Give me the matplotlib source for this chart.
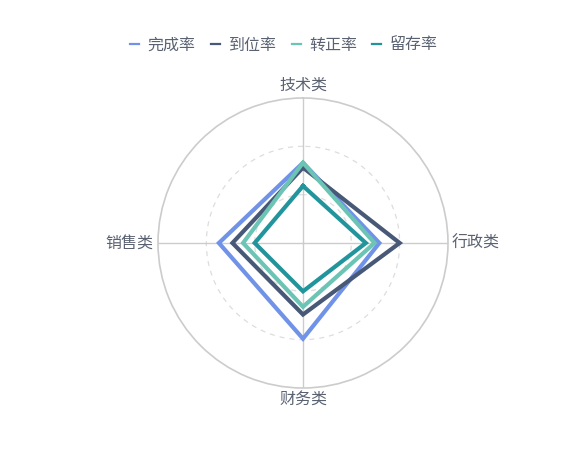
import numpy as np
import matplotlib
matplotlib.use("Agg")
import matplotlib.pyplot as plt

plt.rcParams['font.family'] = ['Noto Sans CJK SC', 'DejaVu Sans']

# indicators, counter-clockwise from the top
categories = ['技术类', '销售类', '财务类', '行政类']
max_value = 150
series_names = ['完成率', '到位率', '转正率', '留存率']
wancheng = [83, 87, 99, 79]
daowei = [78, 73, 74, 100]
zhuanzheng = [83, 62, 66, 74]
liucun = [59, 50, 50, 65]
colors = ['#7093e8', '#485877', '#6bc4b4', '#22959c']
text_color = '#5a6272'


def main():
    fig = plt.figure(figsize=(5.85, 4.54), dpi=100)
    W, H = 585, 454
    cx, cy, R = 303, 243, 145
    ax = fig.add_axes([(cx - R) / W, (H - cy - R) / H, 2 * R / W, 2 * R / H], polar=True)
    ax.set_theta_zero_location('N')
    ax.set_theta_direction(1)
    ax.set_ylim(0, max_value)

    angles = np.linspace(0, 2 * np.pi, len(categories), endpoint=False)
    closed = np.append(angles, angles[0])

    for name, vals, c in zip(series_names, [wancheng, daowei, zhuanzheng, liucun], colors):
        v = np.append(vals, vals[0])
        ax.plot(closed, v, color=c, linewidth=3, label=name, solid_joinstyle='miter', zorder=3)

    # grid
    ax.set_xticks([])
    ax.set_yticks([])
    ax.grid(False)
    t = np.linspace(0, 2 * np.pi, 300)
    for r in [50, 100]:
        ax.plot(t, np.full_like(t, r), color='#dddddd', linestyle=(0, (4, 4)), linewidth=0.9, zorder=1)
    for a in angles:
        ax.plot([a, a], [0, max_value], color='#cccccc', linewidth=1, zorder=1)
    ax.spines['polar'].set_color('#cccccc')
    ax.spines['polar'].set_linewidth(1.2)

    # indicator names
    offsets = [(0, 9, 'center', 'center'), (-3.5, 0, 'right', 'center'),
               (0, -8, 'center', 'center'), (2.5, 0, 'left', 'center')]
    for a, lab, (dx, dy, ha, va) in zip(angles, categories, offsets):
        ax.annotate(lab, (a, max_value), xytext=(dx, dy), textcoords='offset points',
                    ha=ha, va=va, fontsize=11.5, color=text_color, annotation_clip=False)

    leg = fig.legend(loc='center', bbox_to_anchor=(284 / W, 1 - 45 / H), ncol=4, frameon=False,
                     fontsize=11.5, handlelength=0.56, handletextpad=0.55, columnspacing=0.95)
    for line in leg.get_lines():
        line.set_linewidth(1.6)
    for txt in leg.get_texts():
        txt.set_color(text_color)

    fig.savefig('out.png', dpi=100)
    plt.close(fig)


if __name__ == '__main__':
    main()
